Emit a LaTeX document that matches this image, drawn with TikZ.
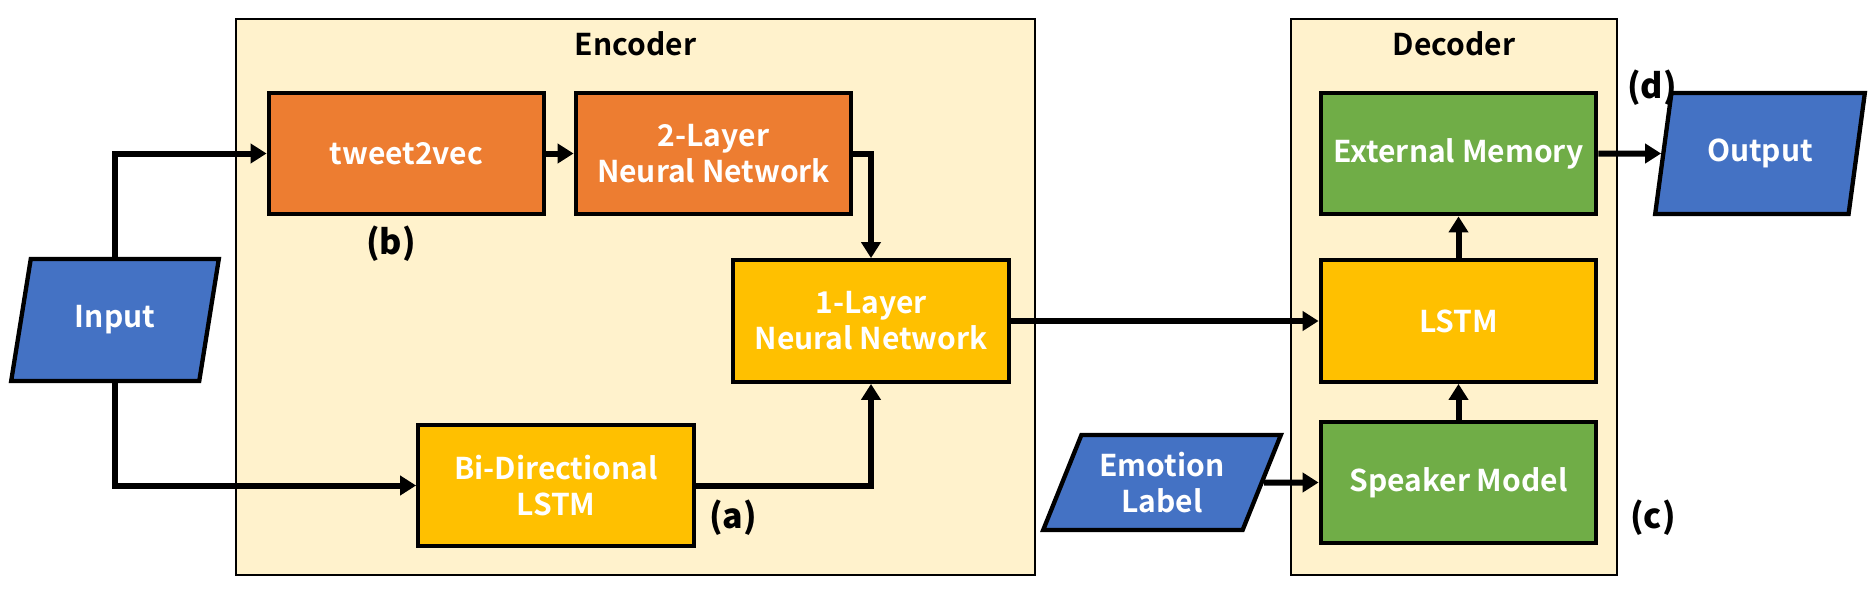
\documentclass[tikz,border=0pt]{standalone}
\usepackage{fontspec}
\setmainfont{Noto Sans CJK JP}
\newfontfamily\boxfont{Noto Sans CJK JP Bold}
\newfontfamily\heavyfont{Noto Sans CJK JP Black}
\usetikzlibrary{shapes.geometric,arrows.meta}
\definecolor{cont}{HTML}{FFF2CC}
\definecolor{orng}{HTML}{ED7D31}
\definecolor{yell}{HTML}{FFC000}
\definecolor{grn}{HTML}{70AD47}
\definecolor{blu}{HTML}{4472C4}
\begin{document}
\begin{tikzpicture}[x=1pt,y=-1pt,
  container/.style={draw=black, line width=2pt, fill=cont, inner sep=0, outer sep=0},
  title/.style={font=\boxfont\fontsize{30}{34}\selectfont, text=black, inner sep=0},
  box/.style={draw=black, line width=4.3pt, minimum width=275.5pt, minimum height=121.5pt,
    text=white, font=\boxfont\fontsize{30}{36}\selectfont, align=center, inner sep=0},
  para/.style={trapezium, trapezium stretches=true, draw=black, line width=4.3pt, fill=blu,
    text=white, font=\boxfont\fontsize{30}{36}\selectfont, align=center, inner sep=0},
  lbl/.style={font=\heavyfont\fontsize{34}{38}\selectfont, text=black, inner sep=0},
  arr/.style={line width=6pt, -{Triangle[length=16pt,width=19pt]}}]
\useasboundingbox (0,0) rectangle (1876,594);
% containers
\node[container, minimum width=799pt, minimum height=556pt] (enc) at (635.5,297) {};
\node[container, minimum width=326pt, minimum height=556pt] (dec) at (1454,297) {};
\node[title] (enct) at (635.5,44) {Encoder};
\node[title] (dect) at (1454,44) {Decoder};
% boxes
\node[box, fill=orng] (t2v) at (406.5,153.5) {tweet2vec};
\node[box, fill=orng] (nn2) at (713.5,153.5) {2-Layer\\Neural Network};
\node[box, fill=yell] (nn1) at (871,321) {1-Layer\\Neural Network};
\node[box, fill=yell] (bil) at (556,485.5) {Bi-Directional\\LSTM};
\node[box, fill=grn] (ext) at (1458.5,153.5) {External Memory};
\node[box, fill=yell] (lstm) at (1458.5,321) {LSTM};
\node[box, fill=grn] (spk) at (1458.5,482.5) {Speaker Model};
% parallelograms
\node[para, trapezium left angle=72, trapezium right angle=108,
  minimum width=208pt, minimum height=122pt] (inp) at (115,320) {Input};
\node[para, trapezium left angle=71.5, trapezium right angle=108.5,
  minimum width=210pt, minimum height=121pt] (out) at (1760,153.5) {Output};
\node[para, trapezium left angle=64, trapezium right angle=116,
  minimum width=238pt, minimum height=95pt] (emo) at (1162,482.5) {Emotion\\Label};
% labels
\node[lbl] (lb) at (391,244) {(b)};
\node[lbl] (la) at (733,518) {(a)};
\node[lbl] (lc) at (1653,518) {(c)};
\node[lbl] (ld) at (1652,88) {(d)};
% connectors
\draw[arr] (inp.center |- inp.north) |- (t2v.west);
\draw[arr] (inp.center |- inp.south) |- (bil.west);
\draw[arr] (t2v) -- (nn2);
\draw[arr] (nn2.east) -| (nn1.north);
\draw[arr] (bil.east) -| (nn1.south);
\draw[arr] (nn1) -- (lstm);
\draw[arr] (emo) -- (spk);
\draw[arr] (spk) -- (lstm);
\draw[arr] (lstm) -- (ext);
\draw[arr] (ext) -- (out);
\end{tikzpicture}
\end{document}
